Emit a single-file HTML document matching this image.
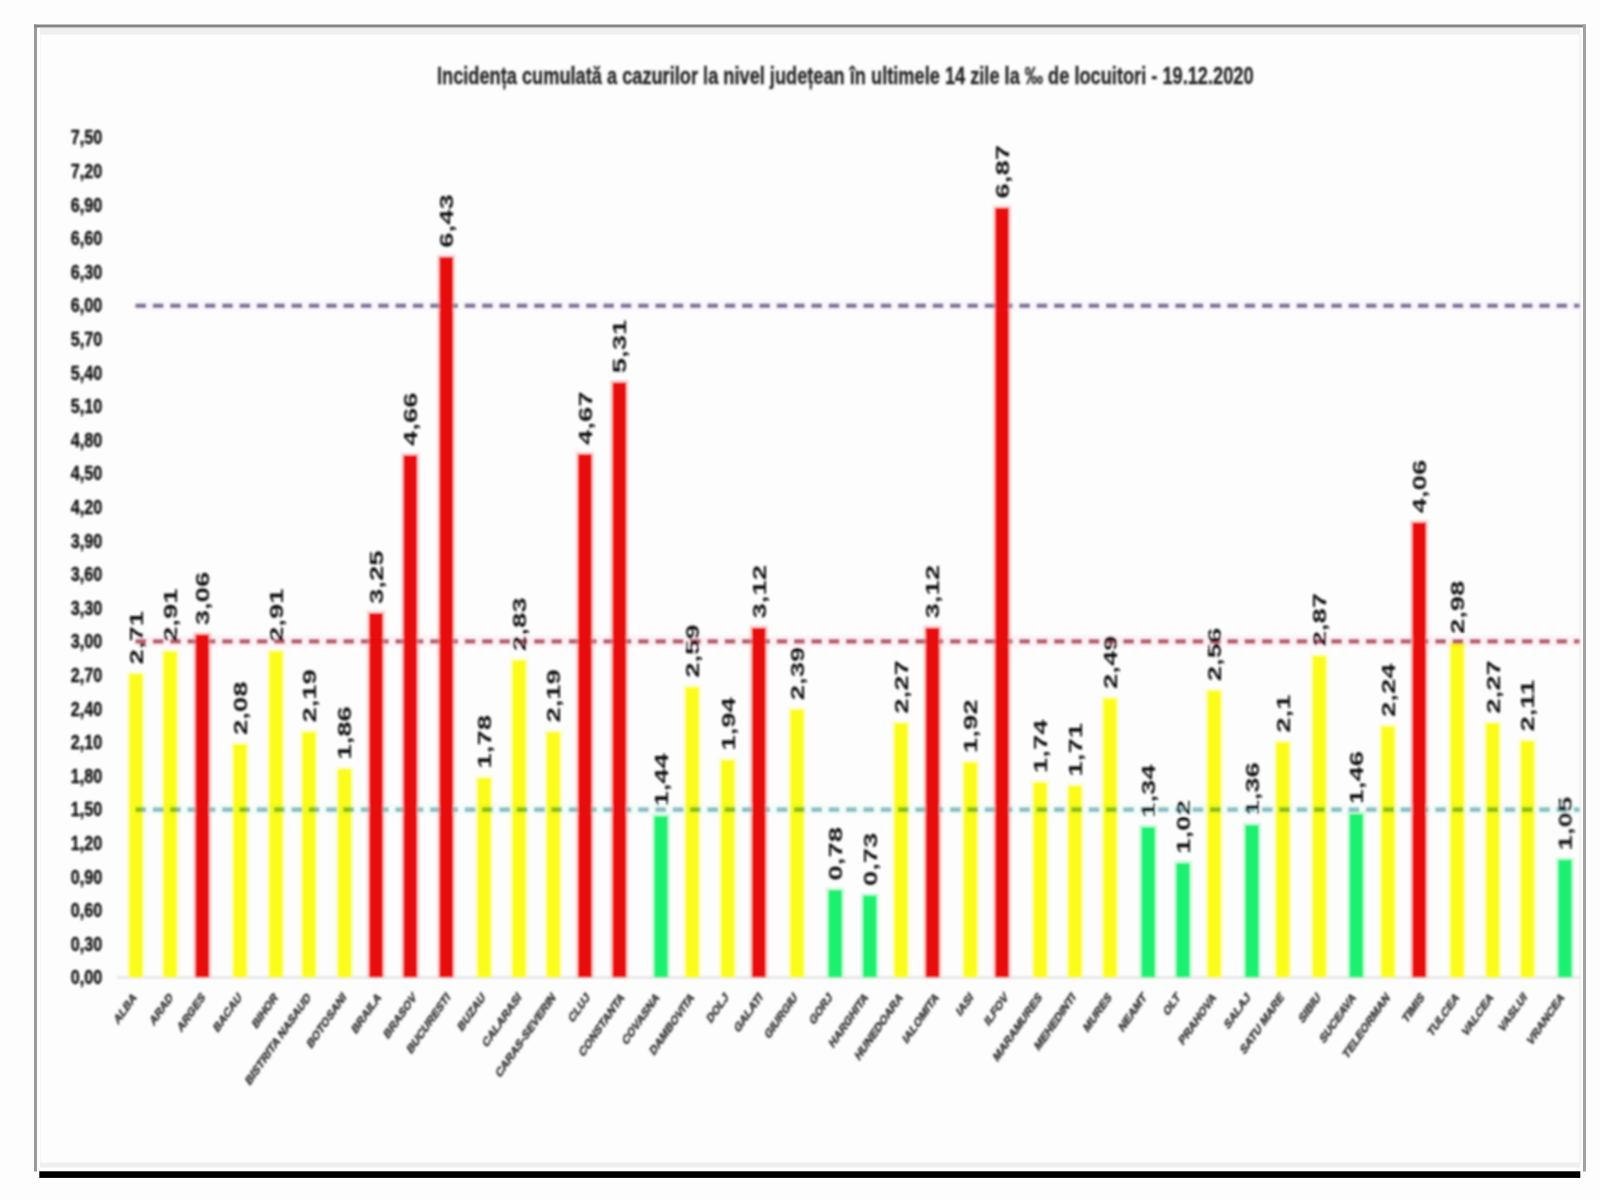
<!DOCTYPE html>
<html><head><meta charset="utf-8"><title>Incidenta cumulata</title>
<style>html,body{margin:0;padding:0;background:#fdfdfd;width:1600px;height:1200px;overflow:hidden;font-family:"Liberation Sans",sans-serif}svg{display:block}</style>
</head><body>
<svg width="1600" height="1200" viewBox="0 0 1600 1200">
<defs><filter id="bf" x="-1%" y="-1%" width="102%" height="102%"><feGaussianBlur stdDeviation="0.45"/></filter><filter id="bc" x="-1%" y="-1%" width="102%" height="102%"><feGaussianBlur stdDeviation="1.1"/></filter></defs>
<rect x="0" y="0" width="1600" height="1200" fill="#fdfdfd"/>
<g filter="url(#bf)">
<rect x="40" y="28" width="1540" height="6.5" fill="#efefef"/>
<rect x="40" y="1162.5" width="1540" height="5" fill="#efefef"/>
<rect x="40" y="34" width="0.8" height="1128" fill="#f3f3f3"/>
<rect x="34" y="24.5" width="3" height="1147" fill="#9a9a9a"/>
<rect x="34" y="24.5" width="1552" height="3" fill="#858585"/>
<rect x="1583" y="24.5" width="3" height="1147" fill="#a3a3a3"/>
<rect x="39.3" y="1171.3" width="1541" height="6.6" fill="#000000"/>
<rect x="1579.5" y="34" width="1" height="1130" fill="#ececec"/>
</g>
<g filter="url(#bc)">
<text x="437" y="84.3" font-family="Liberation Sans" font-weight="bold" font-size="23.5" fill="#262626" stroke="#262626" stroke-width="0.35" transform="translate(437 0) scale(0.775 1) translate(-437 0)">Incidența cumulată a cazurilor la nivel județean în ultimele 14 zile la ‰ de locuitori - 19.12.2020</text>
<text x="102.3" y="984.4" text-anchor="end" font-family="Liberation Sans" font-weight="bold" font-size="19.5" fill="#111111" stroke="#111111" stroke-width="0.35" transform="translate(102.3 0) scale(0.83 1) translate(-102.3 0)">0,00</text>
<text x="102.3" y="950.8" text-anchor="end" font-family="Liberation Sans" font-weight="bold" font-size="19.5" fill="#111111" stroke="#111111" stroke-width="0.35" transform="translate(102.3 0) scale(0.83 1) translate(-102.3 0)">0,30</text>
<text x="102.3" y="917.2" text-anchor="end" font-family="Liberation Sans" font-weight="bold" font-size="19.5" fill="#111111" stroke="#111111" stroke-width="0.35" transform="translate(102.3 0) scale(0.83 1) translate(-102.3 0)">0,60</text>
<text x="102.3" y="883.6" text-anchor="end" font-family="Liberation Sans" font-weight="bold" font-size="19.5" fill="#111111" stroke="#111111" stroke-width="0.35" transform="translate(102.3 0) scale(0.83 1) translate(-102.3 0)">0,90</text>
<text x="102.3" y="850.0" text-anchor="end" font-family="Liberation Sans" font-weight="bold" font-size="19.5" fill="#111111" stroke="#111111" stroke-width="0.35" transform="translate(102.3 0) scale(0.83 1) translate(-102.3 0)">1,20</text>
<text x="102.3" y="816.4" text-anchor="end" font-family="Liberation Sans" font-weight="bold" font-size="19.5" fill="#111111" stroke="#111111" stroke-width="0.35" transform="translate(102.3 0) scale(0.83 1) translate(-102.3 0)">1,50</text>
<text x="102.3" y="782.8" text-anchor="end" font-family="Liberation Sans" font-weight="bold" font-size="19.5" fill="#111111" stroke="#111111" stroke-width="0.35" transform="translate(102.3 0) scale(0.83 1) translate(-102.3 0)">1,80</text>
<text x="102.3" y="749.2" text-anchor="end" font-family="Liberation Sans" font-weight="bold" font-size="19.5" fill="#111111" stroke="#111111" stroke-width="0.35" transform="translate(102.3 0) scale(0.83 1) translate(-102.3 0)">2,10</text>
<text x="102.3" y="715.6" text-anchor="end" font-family="Liberation Sans" font-weight="bold" font-size="19.5" fill="#111111" stroke="#111111" stroke-width="0.35" transform="translate(102.3 0) scale(0.83 1) translate(-102.3 0)">2,40</text>
<text x="102.3" y="682.0" text-anchor="end" font-family="Liberation Sans" font-weight="bold" font-size="19.5" fill="#111111" stroke="#111111" stroke-width="0.35" transform="translate(102.3 0) scale(0.83 1) translate(-102.3 0)">2,70</text>
<text x="102.3" y="648.4" text-anchor="end" font-family="Liberation Sans" font-weight="bold" font-size="19.5" fill="#111111" stroke="#111111" stroke-width="0.35" transform="translate(102.3 0) scale(0.83 1) translate(-102.3 0)">3,00</text>
<text x="102.3" y="614.8" text-anchor="end" font-family="Liberation Sans" font-weight="bold" font-size="19.5" fill="#111111" stroke="#111111" stroke-width="0.35" transform="translate(102.3 0) scale(0.83 1) translate(-102.3 0)">3,30</text>
<text x="102.3" y="581.2" text-anchor="end" font-family="Liberation Sans" font-weight="bold" font-size="19.5" fill="#111111" stroke="#111111" stroke-width="0.35" transform="translate(102.3 0) scale(0.83 1) translate(-102.3 0)">3,60</text>
<text x="102.3" y="547.6" text-anchor="end" font-family="Liberation Sans" font-weight="bold" font-size="19.5" fill="#111111" stroke="#111111" stroke-width="0.35" transform="translate(102.3 0) scale(0.83 1) translate(-102.3 0)">3,90</text>
<text x="102.3" y="514.0" text-anchor="end" font-family="Liberation Sans" font-weight="bold" font-size="19.5" fill="#111111" stroke="#111111" stroke-width="0.35" transform="translate(102.3 0) scale(0.83 1) translate(-102.3 0)">4,20</text>
<text x="102.3" y="480.4" text-anchor="end" font-family="Liberation Sans" font-weight="bold" font-size="19.5" fill="#111111" stroke="#111111" stroke-width="0.35" transform="translate(102.3 0) scale(0.83 1) translate(-102.3 0)">4,50</text>
<text x="102.3" y="446.8" text-anchor="end" font-family="Liberation Sans" font-weight="bold" font-size="19.5" fill="#111111" stroke="#111111" stroke-width="0.35" transform="translate(102.3 0) scale(0.83 1) translate(-102.3 0)">4,80</text>
<text x="102.3" y="413.2" text-anchor="end" font-family="Liberation Sans" font-weight="bold" font-size="19.5" fill="#111111" stroke="#111111" stroke-width="0.35" transform="translate(102.3 0) scale(0.83 1) translate(-102.3 0)">5,10</text>
<text x="102.3" y="379.6" text-anchor="end" font-family="Liberation Sans" font-weight="bold" font-size="19.5" fill="#111111" stroke="#111111" stroke-width="0.35" transform="translate(102.3 0) scale(0.83 1) translate(-102.3 0)">5,40</text>
<text x="102.3" y="346.0" text-anchor="end" font-family="Liberation Sans" font-weight="bold" font-size="19.5" fill="#111111" stroke="#111111" stroke-width="0.35" transform="translate(102.3 0) scale(0.83 1) translate(-102.3 0)">5,70</text>
<text x="102.3" y="312.4" text-anchor="end" font-family="Liberation Sans" font-weight="bold" font-size="19.5" fill="#111111" stroke="#111111" stroke-width="0.35" transform="translate(102.3 0) scale(0.83 1) translate(-102.3 0)">6,00</text>
<text x="102.3" y="278.8" text-anchor="end" font-family="Liberation Sans" font-weight="bold" font-size="19.5" fill="#111111" stroke="#111111" stroke-width="0.35" transform="translate(102.3 0) scale(0.83 1) translate(-102.3 0)">6,30</text>
<text x="102.3" y="245.2" text-anchor="end" font-family="Liberation Sans" font-weight="bold" font-size="19.5" fill="#111111" stroke="#111111" stroke-width="0.35" transform="translate(102.3 0) scale(0.83 1) translate(-102.3 0)">6,60</text>
<text x="102.3" y="211.6" text-anchor="end" font-family="Liberation Sans" font-weight="bold" font-size="19.5" fill="#111111" stroke="#111111" stroke-width="0.35" transform="translate(102.3 0) scale(0.83 1) translate(-102.3 0)">6,90</text>
<text x="102.3" y="178.0" text-anchor="end" font-family="Liberation Sans" font-weight="bold" font-size="19.5" fill="#111111" stroke="#111111" stroke-width="0.35" transform="translate(102.3 0) scale(0.83 1) translate(-102.3 0)">7,20</text>
<text x="102.3" y="144.4" text-anchor="end" font-family="Liberation Sans" font-weight="bold" font-size="19.5" fill="#111111" stroke="#111111" stroke-width="0.35" transform="translate(102.3 0) scale(0.83 1) translate(-102.3 0)">7,50</text>
<rect x="117" y="976.5" width="1463" height="2" fill="#e0e0e0"/>
<rect x="126.7" y="671.4" width="18.4" height="306.0" fill="#fcfca0" opacity="0.45"/>
<rect x="129.2" y="673.9" width="13.4" height="303.5" fill="#fcfc1c"/>
<rect x="161.0" y="649.0" width="18.4" height="328.4" fill="#fcfca0" opacity="0.45"/>
<rect x="163.5" y="651.5" width="13.4" height="325.9" fill="#fcfc1c"/>
<rect x="230.8" y="741.9" width="18.4" height="235.5" fill="#fcfca0" opacity="0.45"/>
<rect x="233.3" y="744.4" width="13.4" height="233.0" fill="#fcfc1c"/>
<rect x="266.8" y="649.0" width="18.4" height="328.4" fill="#fcfca0" opacity="0.45"/>
<rect x="269.3" y="651.5" width="13.4" height="325.9" fill="#fcfc1c"/>
<rect x="299.8" y="729.6" width="18.4" height="247.8" fill="#fcfca0" opacity="0.45"/>
<rect x="302.3" y="732.1" width="13.4" height="245.3" fill="#fcfc1c"/>
<rect x="335.4" y="766.6" width="18.4" height="210.8" fill="#fcfca0" opacity="0.45"/>
<rect x="337.9" y="769.1" width="13.4" height="208.3" fill="#fcfc1c"/>
<rect x="475.0" y="775.5" width="18.4" height="201.9" fill="#fcfca0" opacity="0.45"/>
<rect x="477.5" y="778.0" width="13.4" height="199.4" fill="#fcfc1c"/>
<rect x="509.9" y="657.9" width="18.4" height="319.5" fill="#fcfca0" opacity="0.45"/>
<rect x="512.4" y="660.4" width="13.4" height="317.0" fill="#fcfc1c"/>
<rect x="544.2" y="729.6" width="18.4" height="247.8" fill="#fcfca0" opacity="0.45"/>
<rect x="546.7" y="732.1" width="13.4" height="245.3" fill="#fcfc1c"/>
<rect x="651.8" y="813.6" width="18.4" height="163.8" fill="#a0f5c4" opacity="0.45"/>
<rect x="654.3" y="816.1" width="13.4" height="161.3" fill="#1cf070"/>
<rect x="683.1" y="684.8" width="18.4" height="292.6" fill="#fcfca0" opacity="0.45"/>
<rect x="685.6" y="687.3" width="13.4" height="290.1" fill="#fcfc1c"/>
<rect x="718.6" y="757.6" width="18.4" height="219.8" fill="#fcfca0" opacity="0.45"/>
<rect x="721.1" y="760.1" width="13.4" height="217.3" fill="#fcfc1c"/>
<rect x="787.8" y="707.2" width="18.4" height="270.2" fill="#fcfca0" opacity="0.45"/>
<rect x="790.3" y="709.7" width="13.4" height="267.7" fill="#fcfc1c"/>
<rect x="826.0" y="887.5" width="18.4" height="89.9" fill="#a0f5c4" opacity="0.45"/>
<rect x="828.5" y="890.0" width="13.4" height="87.4" fill="#1cf070"/>
<rect x="860.6" y="893.1" width="18.4" height="84.3" fill="#a0f5c4" opacity="0.45"/>
<rect x="863.1" y="895.6" width="13.4" height="81.8" fill="#1cf070"/>
<rect x="891.8" y="720.7" width="18.4" height="256.7" fill="#fcfca0" opacity="0.45"/>
<rect x="894.3" y="723.2" width="13.4" height="254.2" fill="#fcfc1c"/>
<rect x="961.2" y="759.9" width="18.4" height="217.5" fill="#fcfca0" opacity="0.45"/>
<rect x="963.7" y="762.4" width="13.4" height="215.0" fill="#fcfc1c"/>
<rect x="1031.0" y="780.0" width="18.4" height="197.4" fill="#fcfca0" opacity="0.45"/>
<rect x="1033.5" y="782.5" width="13.4" height="194.9" fill="#fcfc1c"/>
<rect x="1065.8" y="783.4" width="18.4" height="194.0" fill="#fcfca0" opacity="0.45"/>
<rect x="1068.3" y="785.9" width="13.4" height="191.5" fill="#fcfc1c"/>
<rect x="1100.8" y="696.0" width="18.4" height="281.4" fill="#fcfca0" opacity="0.45"/>
<rect x="1103.3" y="698.5" width="13.4" height="278.9" fill="#fcfc1c"/>
<rect x="1139.0" y="824.8" width="18.4" height="152.6" fill="#a0f5c4" opacity="0.45"/>
<rect x="1141.5" y="827.3" width="13.4" height="150.1" fill="#1cf070"/>
<rect x="1173.8" y="860.7" width="18.4" height="116.7" fill="#a0f5c4" opacity="0.45"/>
<rect x="1176.3" y="863.2" width="13.4" height="114.2" fill="#1cf070"/>
<rect x="1205.0" y="688.2" width="18.4" height="289.2" fill="#fcfca0" opacity="0.45"/>
<rect x="1207.5" y="690.7" width="13.4" height="286.7" fill="#fcfc1c"/>
<rect x="1242.8" y="822.6" width="18.4" height="154.8" fill="#a0f5c4" opacity="0.45"/>
<rect x="1245.3" y="825.1" width="13.4" height="152.3" fill="#1cf070"/>
<rect x="1273.6" y="739.7" width="18.4" height="237.7" fill="#fcfca0" opacity="0.45"/>
<rect x="1276.1" y="742.2" width="13.4" height="235.2" fill="#fcfc1c"/>
<rect x="1310.2" y="653.5" width="18.4" height="323.9" fill="#fcfca0" opacity="0.45"/>
<rect x="1312.7" y="656.0" width="13.4" height="321.4" fill="#fcfc1c"/>
<rect x="1347.1" y="811.4" width="18.4" height="166.0" fill="#a0f5c4" opacity="0.45"/>
<rect x="1349.6" y="813.9" width="13.4" height="163.5" fill="#1cf070"/>
<rect x="1378.8" y="724.0" width="18.4" height="253.4" fill="#fcfca0" opacity="0.45"/>
<rect x="1381.3" y="726.5" width="13.4" height="250.9" fill="#fcfc1c"/>
<rect x="1448.0" y="641.1" width="18.4" height="336.3" fill="#fcfca0" opacity="0.45"/>
<rect x="1450.5" y="643.6" width="13.4" height="333.8" fill="#fcfc1c"/>
<rect x="1483.5" y="720.7" width="18.4" height="256.7" fill="#fcfca0" opacity="0.45"/>
<rect x="1486.0" y="723.2" width="13.4" height="254.2" fill="#fcfc1c"/>
<rect x="1518.3" y="738.6" width="18.4" height="238.8" fill="#fcfca0" opacity="0.45"/>
<rect x="1520.8" y="741.1" width="13.4" height="236.3" fill="#fcfc1c"/>
<rect x="1555.8" y="857.3" width="18.4" height="120.1" fill="#a0f5c4" opacity="0.45"/>
<rect x="1558.3" y="859.8" width="13.4" height="117.6" fill="#1cf070"/>
<rect x="136" y="299.7" width="1444" height="12" fill="#f8f2fb" opacity="0.5" style="mix-blend-mode:multiply"/>
<line x1="135.5" y1="305.7" x2="1579.5" y2="305.7" stroke="#83769a" stroke-width="4.6" stroke-dasharray="10.6 6.73" style="mix-blend-mode:multiply"/>
<rect x="136" y="635.4" width="1444" height="12" fill="#fde9ee" opacity="0.5" style="mix-blend-mode:multiply"/>
<line x1="135.5" y1="641.4" x2="1579.5" y2="641.4" stroke="#b96470" stroke-width="4.6" stroke-dasharray="10.6 6.73" style="mix-blend-mode:multiply"/>
<rect x="136" y="803.6" width="1444" height="12" fill="#eafcf6" opacity="0.5" style="mix-blend-mode:multiply"/>
<line x1="135.5" y1="809.6" x2="1579.5" y2="809.6" stroke="#93bfc9" stroke-width="4.6" stroke-dasharray="10.6 6.73" style="mix-blend-mode:multiply"/>
<rect x="193.1" y="632.2" width="18.4" height="345.2" fill="#f7a0a0" opacity="0.45"/>
<rect x="195.6" y="634.7" width="13.4" height="342.7" fill="#e80a0a"/>
<rect x="366.8" y="610.9" width="18.4" height="366.5" fill="#f7a0a0" opacity="0.45"/>
<rect x="369.3" y="613.4" width="13.4" height="364.0" fill="#e80a0a"/>
<rect x="401.1" y="453.0" width="18.4" height="524.4" fill="#f7a0a0" opacity="0.45"/>
<rect x="403.6" y="455.5" width="13.4" height="521.9" fill="#e80a0a"/>
<rect x="437.1" y="254.7" width="18.4" height="722.7" fill="#f7a0a0" opacity="0.45"/>
<rect x="439.6" y="257.2" width="13.4" height="720.2" fill="#e80a0a"/>
<rect x="575.7" y="451.9" width="18.4" height="525.5" fill="#f7a0a0" opacity="0.45"/>
<rect x="578.2" y="454.4" width="13.4" height="523.0" fill="#e80a0a"/>
<rect x="610.2" y="380.2" width="18.4" height="597.2" fill="#f7a0a0" opacity="0.45"/>
<rect x="612.7" y="382.7" width="13.4" height="594.7" fill="#e80a0a"/>
<rect x="749.6" y="625.5" width="18.4" height="351.9" fill="#f7a0a0" opacity="0.45"/>
<rect x="752.1" y="628.0" width="13.4" height="349.4" fill="#e80a0a"/>
<rect x="923.3" y="625.5" width="18.4" height="351.9" fill="#f7a0a0" opacity="0.45"/>
<rect x="925.8" y="628.0" width="13.4" height="349.4" fill="#e80a0a"/>
<rect x="992.8" y="205.5" width="18.4" height="771.9" fill="#f7a0a0" opacity="0.45"/>
<rect x="995.3" y="208.0" width="13.4" height="769.4" fill="#e80a0a"/>
<rect x="1410.0" y="520.2" width="18.4" height="457.2" fill="#f7a0a0" opacity="0.45"/>
<rect x="1412.5" y="522.7" width="13.4" height="454.7" fill="#e80a0a"/>
<text x="0" y="0" font-family="Liberation Sans" font-weight="bold" font-size="17.5" fill="#111111" transform="translate(136.4 664.4) rotate(-90) scale(1.57 1) translate(0 6.3)">2,71</text>
<text x="0" y="0" font-family="Liberation Sans" font-weight="bold" font-size="17.5" fill="#111111" transform="translate(170.7 642.0) rotate(-90) scale(1.57 1) translate(0 6.3)">2,91</text>
<text x="0" y="0" font-family="Liberation Sans" font-weight="bold" font-size="17.5" fill="#111111" transform="translate(202.8 625.2) rotate(-90) scale(1.57 1) translate(0 6.3)">3,06</text>
<text x="0" y="0" font-family="Liberation Sans" font-weight="bold" font-size="17.5" fill="#111111" transform="translate(240.5 734.9) rotate(-90) scale(1.57 1) translate(0 6.3)">2,08</text>
<text x="0" y="0" font-family="Liberation Sans" font-weight="bold" font-size="17.5" fill="#111111" transform="translate(276.5 642.0) rotate(-90) scale(1.57 1) translate(0 6.3)">2,91</text>
<text x="0" y="0" font-family="Liberation Sans" font-weight="bold" font-size="17.5" fill="#111111" transform="translate(309.5 722.6) rotate(-90) scale(1.57 1) translate(0 6.3)">2,19</text>
<text x="0" y="0" font-family="Liberation Sans" font-weight="bold" font-size="17.5" fill="#111111" transform="translate(345.1 759.6) rotate(-90) scale(1.57 1) translate(0 6.3)">1,86</text>
<text x="0" y="0" font-family="Liberation Sans" font-weight="bold" font-size="17.5" fill="#111111" transform="translate(376.5 603.9) rotate(-90) scale(1.57 1) translate(0 6.3)">3,25</text>
<text x="0" y="0" font-family="Liberation Sans" font-weight="bold" font-size="17.5" fill="#111111" transform="translate(410.8 446.0) rotate(-90) scale(1.57 1) translate(0 6.3)">4,66</text>
<text x="0" y="0" font-family="Liberation Sans" font-weight="bold" font-size="17.5" fill="#111111" transform="translate(446.8 247.7) rotate(-90) scale(1.57 1) translate(0 6.3)">6,43</text>
<text x="0" y="0" font-family="Liberation Sans" font-weight="bold" font-size="17.5" fill="#111111" transform="translate(484.7 768.5) rotate(-90) scale(1.57 1) translate(0 6.3)">1,78</text>
<text x="0" y="0" font-family="Liberation Sans" font-weight="bold" font-size="17.5" fill="#111111" transform="translate(519.6 650.9) rotate(-90) scale(1.57 1) translate(0 6.3)">2,83</text>
<text x="0" y="0" font-family="Liberation Sans" font-weight="bold" font-size="17.5" fill="#111111" transform="translate(553.9 722.6) rotate(-90) scale(1.57 1) translate(0 6.3)">2,19</text>
<text x="0" y="0" font-family="Liberation Sans" font-weight="bold" font-size="17.5" fill="#111111" transform="translate(585.4 444.9) rotate(-90) scale(1.57 1) translate(0 6.3)">4,67</text>
<text x="0" y="0" font-family="Liberation Sans" font-weight="bold" font-size="17.5" fill="#111111" transform="translate(619.9 373.2) rotate(-90) scale(1.57 1) translate(0 6.3)">5,31</text>
<text x="0" y="0" font-family="Liberation Sans" font-weight="bold" font-size="17.5" fill="#111111" transform="translate(661.5 806.6) rotate(-90) scale(1.57 1) translate(0 6.3)">1,44</text>
<text x="0" y="0" font-family="Liberation Sans" font-weight="bold" font-size="17.5" fill="#111111" transform="translate(692.8 677.8) rotate(-90) scale(1.57 1) translate(0 6.3)">2,59</text>
<text x="0" y="0" font-family="Liberation Sans" font-weight="bold" font-size="17.5" fill="#111111" transform="translate(728.3 750.6) rotate(-90) scale(1.57 1) translate(0 6.3)">1,94</text>
<text x="0" y="0" font-family="Liberation Sans" font-weight="bold" font-size="17.5" fill="#111111" transform="translate(759.3 618.5) rotate(-90) scale(1.57 1) translate(0 6.3)">3,12</text>
<text x="0" y="0" font-family="Liberation Sans" font-weight="bold" font-size="17.5" fill="#111111" transform="translate(797.5 700.2) rotate(-90) scale(1.57 1) translate(0 6.3)">2,39</text>
<text x="0" y="0" font-family="Liberation Sans" font-weight="bold" font-size="17.5" fill="#111111" transform="translate(835.7 880.5) rotate(-90) scale(1.57 1) translate(0 6.3)">0,78</text>
<text x="0" y="0" font-family="Liberation Sans" font-weight="bold" font-size="17.5" fill="#111111" transform="translate(870.3 886.1) rotate(-90) scale(1.57 1) translate(0 6.3)">0,73</text>
<text x="0" y="0" font-family="Liberation Sans" font-weight="bold" font-size="17.5" fill="#111111" transform="translate(901.5 713.7) rotate(-90) scale(1.57 1) translate(0 6.3)">2,27</text>
<text x="0" y="0" font-family="Liberation Sans" font-weight="bold" font-size="17.5" fill="#111111" transform="translate(933.0 618.5) rotate(-90) scale(1.57 1) translate(0 6.3)">3,12</text>
<text x="0" y="0" font-family="Liberation Sans" font-weight="bold" font-size="17.5" fill="#111111" transform="translate(970.9 752.9) rotate(-90) scale(1.57 1) translate(0 6.3)">1,92</text>
<text x="0" y="0" font-family="Liberation Sans" font-weight="bold" font-size="17.5" fill="#111111" transform="translate(1002.5 198.5) rotate(-90) scale(1.57 1) translate(0 6.3)">6,87</text>
<text x="0" y="0" font-family="Liberation Sans" font-weight="bold" font-size="17.5" fill="#111111" transform="translate(1040.7 773.0) rotate(-90) scale(1.57 1) translate(0 6.3)">1,74</text>
<text x="0" y="0" font-family="Liberation Sans" font-weight="bold" font-size="17.5" fill="#111111" transform="translate(1075.5 776.4) rotate(-90) scale(1.57 1) translate(0 6.3)">1,71</text>
<text x="0" y="0" font-family="Liberation Sans" font-weight="bold" font-size="17.5" fill="#111111" transform="translate(1110.5 689.0) rotate(-90) scale(1.57 1) translate(0 6.3)">2,49</text>
<text x="0" y="0" font-family="Liberation Sans" font-weight="bold" font-size="17.5" fill="#111111" transform="translate(1148.7 817.8) rotate(-90) scale(1.57 1) translate(0 6.3)">1,34</text>
<text x="0" y="0" font-family="Liberation Sans" font-weight="bold" font-size="17.5" fill="#111111" transform="translate(1183.5 853.7) rotate(-90) scale(1.57 1) translate(0 6.3)">1,02</text>
<text x="0" y="0" font-family="Liberation Sans" font-weight="bold" font-size="17.5" fill="#111111" transform="translate(1214.8 681.2) rotate(-90) scale(1.57 1) translate(0 6.3)">2,56</text>
<text x="0" y="0" font-family="Liberation Sans" font-weight="bold" font-size="17.5" fill="#111111" transform="translate(1252.5 815.6) rotate(-90) scale(1.57 1) translate(0 6.3)">1,36</text>
<text x="0" y="0" font-family="Liberation Sans" font-weight="bold" font-size="17.5" fill="#111111" transform="translate(1283.3 732.7) rotate(-90) scale(1.57 1) translate(0 6.3)">2,1</text>
<text x="0" y="0" font-family="Liberation Sans" font-weight="bold" font-size="17.5" fill="#111111" transform="translate(1319.9 646.5) rotate(-90) scale(1.57 1) translate(0 6.3)">2,87</text>
<text x="0" y="0" font-family="Liberation Sans" font-weight="bold" font-size="17.5" fill="#111111" transform="translate(1356.8 804.4) rotate(-90) scale(1.57 1) translate(0 6.3)">1,46</text>
<text x="0" y="0" font-family="Liberation Sans" font-weight="bold" font-size="17.5" fill="#111111" transform="translate(1388.5 717.0) rotate(-90) scale(1.57 1) translate(0 6.3)">2,24</text>
<text x="0" y="0" font-family="Liberation Sans" font-weight="bold" font-size="17.5" fill="#111111" transform="translate(1419.7 513.2) rotate(-90) scale(1.57 1) translate(0 6.3)">4,06</text>
<text x="0" y="0" font-family="Liberation Sans" font-weight="bold" font-size="17.5" fill="#111111" transform="translate(1457.8 634.1) rotate(-90) scale(1.57 1) translate(0 6.3)">2,98</text>
<text x="0" y="0" font-family="Liberation Sans" font-weight="bold" font-size="17.5" fill="#111111" transform="translate(1493.2 713.7) rotate(-90) scale(1.57 1) translate(0 6.3)">2,27</text>
<text x="0" y="0" font-family="Liberation Sans" font-weight="bold" font-size="17.5" fill="#111111" transform="translate(1528.0 731.6) rotate(-90) scale(1.57 1) translate(0 6.3)">2,11</text>
<text x="0" y="0" font-family="Liberation Sans" font-weight="bold" font-size="17.5" fill="#111111" transform="translate(1565.5 850.3) rotate(-90) scale(1.57 1) translate(0 6.3)">1,05</text>
<text x="0" y="0" text-anchor="end" font-family="Liberation Sans" font-weight="bold" font-size="13.5" fill="#3a3a3a" stroke="#3a3a3a" stroke-width="0.7" transform="translate(134.7 995) scale(0.7 1) rotate(-45) scale(1.02 1) translate(0 4.4)">ALBA</text>
<text x="0" y="0" text-anchor="end" font-family="Liberation Sans" font-weight="bold" font-size="13.5" fill="#3a3a3a" stroke="#3a3a3a" stroke-width="0.7" transform="translate(171.2 995) scale(0.7 1) rotate(-45) scale(1.02 1) translate(0 4.4)">ARAD</text>
<text x="0" y="0" text-anchor="end" font-family="Liberation Sans" font-weight="bold" font-size="13.5" fill="#3a3a3a" stroke="#3a3a3a" stroke-width="0.7" transform="translate(203.3 995) scale(0.7 1) rotate(-45) scale(1.02 1) translate(0 4.4)">ARGES</text>
<text x="0" y="0" text-anchor="end" font-family="Liberation Sans" font-weight="bold" font-size="13.5" fill="#3a3a3a" stroke="#3a3a3a" stroke-width="0.7" transform="translate(239.9 995) scale(0.7 1) rotate(-45) scale(1.02 1) translate(0 4.4)">BACAU</text>
<text x="0" y="0" text-anchor="end" font-family="Liberation Sans" font-weight="bold" font-size="13.5" fill="#3a3a3a" stroke="#3a3a3a" stroke-width="0.7" transform="translate(275.9 995) scale(0.7 1) rotate(-45) scale(1.02 1) translate(0 4.4)">BIHOR</text>
<text x="0" y="0" text-anchor="end" font-family="Liberation Sans" font-weight="bold" font-size="13.5" fill="#3a3a3a" stroke="#3a3a3a" stroke-width="0.7" transform="translate(308.9 995) scale(0.7 1) rotate(-45) scale(1.02 1) translate(0 4.4)">BISTRITA NASAUD</text>
<text x="0" y="0" text-anchor="end" font-family="Liberation Sans" font-weight="bold" font-size="13.5" fill="#3a3a3a" stroke="#3a3a3a" stroke-width="0.7" transform="translate(344.5 995) scale(0.7 1) rotate(-45) scale(1.02 1) translate(0 4.4)">BOTOSANI</text>
<text x="0" y="0" text-anchor="end" font-family="Liberation Sans" font-weight="bold" font-size="13.5" fill="#3a3a3a" stroke="#3a3a3a" stroke-width="0.7" transform="translate(379.2 995) scale(0.7 1) rotate(-45) scale(1.02 1) translate(0 4.4)">BRAILA</text>
<text x="0" y="0" text-anchor="end" font-family="Liberation Sans" font-weight="bold" font-size="13.5" fill="#3a3a3a" stroke="#3a3a3a" stroke-width="0.7" transform="translate(414.7 995) scale(0.7 1) rotate(-45) scale(1.02 1) translate(0 4.4)">BRASOV</text>
<text x="0" y="0" text-anchor="end" font-family="Liberation Sans" font-weight="bold" font-size="13.5" fill="#3a3a3a" stroke="#3a3a3a" stroke-width="0.7" transform="translate(448.4 995) scale(0.7 1) rotate(-45) scale(1.02 1) translate(0 4.4)">BUCURESTI</text>
<text x="0" y="0" text-anchor="end" font-family="Liberation Sans" font-weight="bold" font-size="13.5" fill="#3a3a3a" stroke="#3a3a3a" stroke-width="0.7" transform="translate(483.5 995) scale(0.7 1) rotate(-45) scale(1.02 1) translate(0 4.4)">BUZAU</text>
<text x="0" y="0" text-anchor="end" font-family="Liberation Sans" font-weight="bold" font-size="13.5" fill="#3a3a3a" stroke="#3a3a3a" stroke-width="0.7" transform="translate(519.5 995) scale(0.7 1) rotate(-45) scale(1.02 1) translate(0 4.4)">CALARASI</text>
<text x="0" y="0" text-anchor="end" font-family="Liberation Sans" font-weight="bold" font-size="13.5" fill="#3a3a3a" stroke="#3a3a3a" stroke-width="0.7" transform="translate(553.8 995) scale(0.7 1) rotate(-45) scale(1.02 1) translate(0 4.4)">CARAS-SEVERIN</text>
<text x="0" y="0" text-anchor="end" font-family="Liberation Sans" font-weight="bold" font-size="13.5" fill="#3a3a3a" stroke="#3a3a3a" stroke-width="0.7" transform="translate(588.1 995) scale(0.7 1) rotate(-45) scale(1.02 1) translate(0 4.4)">CLUJ</text>
<text x="0" y="0" text-anchor="end" font-family="Liberation Sans" font-weight="bold" font-size="13.5" fill="#3a3a3a" stroke="#3a3a3a" stroke-width="0.7" transform="translate(622.6 995) scale(0.7 1) rotate(-45) scale(1.02 1) translate(0 4.4)">CONSTANTA</text>
<text x="0" y="0" text-anchor="end" font-family="Liberation Sans" font-weight="bold" font-size="13.5" fill="#3a3a3a" stroke="#3a3a3a" stroke-width="0.7" transform="translate(657.5 995) scale(0.7 1) rotate(-45) scale(1.02 1) translate(0 4.4)">COVASNA</text>
<text x="0" y="0" text-anchor="end" font-family="Liberation Sans" font-weight="bold" font-size="13.5" fill="#3a3a3a" stroke="#3a3a3a" stroke-width="0.7" transform="translate(692.3 995) scale(0.7 1) rotate(-45) scale(1.02 1) translate(0 4.4)">DAMBOVITA</text>
<text x="0" y="0" text-anchor="end" font-family="Liberation Sans" font-weight="bold" font-size="13.5" fill="#3a3a3a" stroke="#3a3a3a" stroke-width="0.7" transform="translate(726.8 995) scale(0.7 1) rotate(-45) scale(1.02 1) translate(0 4.4)">DOLJ</text>
<text x="0" y="0" text-anchor="end" font-family="Liberation Sans" font-weight="bold" font-size="13.5" fill="#3a3a3a" stroke="#3a3a3a" stroke-width="0.7" transform="translate(760.8 995) scale(0.7 1) rotate(-45) scale(1.02 1) translate(0 4.4)">GALATI</text>
<text x="0" y="0" text-anchor="end" font-family="Liberation Sans" font-weight="bold" font-size="13.5" fill="#3a3a3a" stroke="#3a3a3a" stroke-width="0.7" transform="translate(795.6 995) scale(0.7 1) rotate(-45) scale(1.02 1) translate(0 4.4)">GIURGIU</text>
<text x="0" y="0" text-anchor="end" font-family="Liberation Sans" font-weight="bold" font-size="13.5" fill="#3a3a3a" stroke="#3a3a3a" stroke-width="0.7" transform="translate(830.6 995) scale(0.7 1) rotate(-45) scale(1.02 1) translate(0 4.4)">GORJ</text>
<text x="0" y="0" text-anchor="end" font-family="Liberation Sans" font-weight="bold" font-size="13.5" fill="#3a3a3a" stroke="#3a3a3a" stroke-width="0.7" transform="translate(866.3 995) scale(0.7 1) rotate(-45) scale(1.02 1) translate(0 4.4)">HARGHITA</text>
<text x="0" y="0" text-anchor="end" font-family="Liberation Sans" font-weight="bold" font-size="13.5" fill="#3a3a3a" stroke="#3a3a3a" stroke-width="0.7" transform="translate(901.0 995) scale(0.7 1) rotate(-45) scale(1.02 1) translate(0 4.4)">HUNEDOARA</text>
<text x="0" y="0" text-anchor="end" font-family="Liberation Sans" font-weight="bold" font-size="13.5" fill="#3a3a3a" stroke="#3a3a3a" stroke-width="0.7" transform="translate(936.9 995) scale(0.7 1) rotate(-45) scale(1.02 1) translate(0 4.4)">IALOMITA</text>
<text x="0" y="0" text-anchor="end" font-family="Liberation Sans" font-weight="bold" font-size="13.5" fill="#3a3a3a" stroke="#3a3a3a" stroke-width="0.7" transform="translate(971.4 995) scale(0.7 1) rotate(-45) scale(1.02 1) translate(0 4.4)">IASI</text>
<text x="0" y="0" text-anchor="end" font-family="Liberation Sans" font-weight="bold" font-size="13.5" fill="#3a3a3a" stroke="#3a3a3a" stroke-width="0.7" transform="translate(1006.4 995) scale(0.7 1) rotate(-45) scale(1.02 1) translate(0 4.4)">ILFOV</text>
<text x="0" y="0" text-anchor="end" font-family="Liberation Sans" font-weight="bold" font-size="13.5" fill="#3a3a3a" stroke="#3a3a3a" stroke-width="0.7" transform="translate(1040.1 995) scale(0.7 1) rotate(-45) scale(1.02 1) translate(0 4.4)">MARAMURES</text>
<text x="0" y="0" text-anchor="end" font-family="Liberation Sans" font-weight="bold" font-size="13.5" fill="#3a3a3a" stroke="#3a3a3a" stroke-width="0.7" transform="translate(1073.8 995) scale(0.7 1) rotate(-45) scale(1.02 1) translate(0 4.4)">MEHEDINTI</text>
<text x="0" y="0" text-anchor="end" font-family="Liberation Sans" font-weight="bold" font-size="13.5" fill="#3a3a3a" stroke="#3a3a3a" stroke-width="0.7" transform="translate(1109.9 995) scale(0.7 1) rotate(-45) scale(1.02 1) translate(0 4.4)">MURES</text>
<text x="0" y="0" text-anchor="end" font-family="Liberation Sans" font-weight="bold" font-size="13.5" fill="#3a3a3a" stroke="#3a3a3a" stroke-width="0.7" transform="translate(1144.7 995) scale(0.7 1) rotate(-45) scale(1.02 1) translate(0 4.4)">NEAMT</text>
<text x="0" y="0" text-anchor="end" font-family="Liberation Sans" font-weight="bold" font-size="13.5" fill="#3a3a3a" stroke="#3a3a3a" stroke-width="0.7" transform="translate(1178.4 995) scale(0.7 1) rotate(-45) scale(1.02 1) translate(0 4.4)">OLT</text>
<text x="0" y="0" text-anchor="end" font-family="Liberation Sans" font-weight="bold" font-size="13.5" fill="#3a3a3a" stroke="#3a3a3a" stroke-width="0.7" transform="translate(1214.2 995) scale(0.7 1) rotate(-45) scale(1.02 1) translate(0 4.4)">PRAHOVA</text>
<text x="0" y="0" text-anchor="end" font-family="Liberation Sans" font-weight="bold" font-size="13.5" fill="#3a3a3a" stroke="#3a3a3a" stroke-width="0.7" transform="translate(1248.5 995) scale(0.7 1) rotate(-45) scale(1.02 1) translate(0 4.4)">SALAJ</text>
<text x="0" y="0" text-anchor="end" font-family="Liberation Sans" font-weight="bold" font-size="13.5" fill="#3a3a3a" stroke="#3a3a3a" stroke-width="0.7" transform="translate(1282.1 995) scale(0.7 1) rotate(-45) scale(1.02 1) translate(0 4.4)">SATU MARE</text>
<text x="0" y="0" text-anchor="end" font-family="Liberation Sans" font-weight="bold" font-size="13.5" fill="#3a3a3a" stroke="#3a3a3a" stroke-width="0.7" transform="translate(1318.7 995) scale(0.7 1) rotate(-45) scale(1.02 1) translate(0 4.4)">SIBIU</text>
<text x="0" y="0" text-anchor="end" font-family="Liberation Sans" font-weight="bold" font-size="13.5" fill="#3a3a3a" stroke="#3a3a3a" stroke-width="0.7" transform="translate(1353.9 995) scale(0.7 1) rotate(-45) scale(1.02 1) translate(0 4.4)">SUCEAVA</text>
<text x="0" y="0" text-anchor="end" font-family="Liberation Sans" font-weight="bold" font-size="13.5" fill="#3a3a3a" stroke="#3a3a3a" stroke-width="0.7" transform="translate(1387.9 995) scale(0.7 1) rotate(-45) scale(1.02 1) translate(0 4.4)">TELEORMAN</text>
<text x="0" y="0" text-anchor="end" font-family="Liberation Sans" font-weight="bold" font-size="13.5" fill="#3a3a3a" stroke="#3a3a3a" stroke-width="0.7" transform="translate(1422.5 995) scale(0.7 1) rotate(-45) scale(1.02 1) translate(0 4.4)">TIMIS</text>
<text x="0" y="0" text-anchor="end" font-family="Liberation Sans" font-weight="bold" font-size="13.5" fill="#3a3a3a" stroke="#3a3a3a" stroke-width="0.7" transform="translate(1457.2 995) scale(0.7 1) rotate(-45) scale(1.02 1) translate(0 4.4)">TULCEA</text>
<text x="0" y="0" text-anchor="end" font-family="Liberation Sans" font-weight="bold" font-size="13.5" fill="#3a3a3a" stroke="#3a3a3a" stroke-width="0.7" transform="translate(1491.5 995) scale(0.7 1) rotate(-45) scale(1.02 1) translate(0 4.4)">VALCEA</text>
<text x="0" y="0" text-anchor="end" font-family="Liberation Sans" font-weight="bold" font-size="13.5" fill="#3a3a3a" stroke="#3a3a3a" stroke-width="0.7" transform="translate(1525.1 995) scale(0.7 1) rotate(-45) scale(1.02 1) translate(0 4.4)">VASLUI</text>
<text x="0" y="0" text-anchor="end" font-family="Liberation Sans" font-weight="bold" font-size="13.5" fill="#3a3a3a" stroke="#3a3a3a" stroke-width="0.7" transform="translate(1562.6 995) scale(0.7 1) rotate(-45) scale(1.02 1) translate(0 4.4)">VRANCEA</text>
</g>
</svg>
</body></html>
